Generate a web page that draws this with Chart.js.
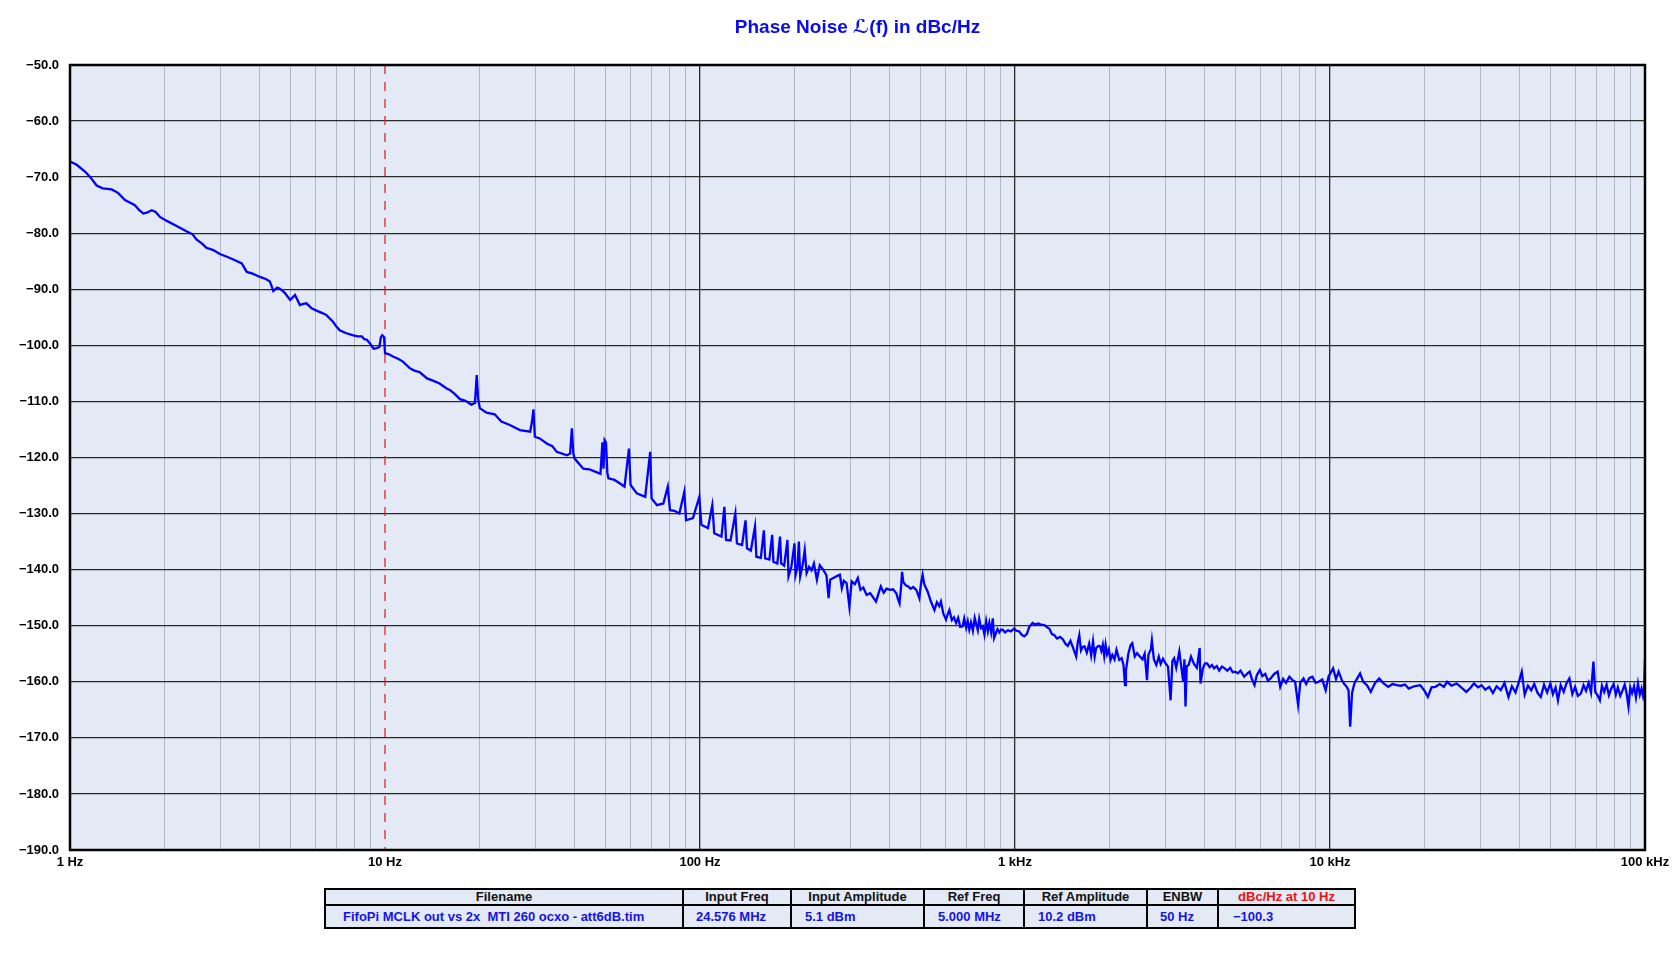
<!DOCTYPE html>
<html>
<head>
<meta charset="utf-8">
<script src="https://cdn.jsdelivr.net/npm/chart.js@4.4.0/dist/chart.umd.min.js"></script>
<style>
  html,body{margin:0;padding:0;background:#fff;width:1680px;height:967px;overflow:hidden;}
  #c{position:absolute;left:0;top:0;}
  #info{position:absolute;left:324px;top:888px;border-collapse:collapse;table-layout:fixed;
        font-family:'Liberation Sans',Arial,sans-serif;background:#e3e9f5;}
  #info td{border:2px solid #000;padding:0;white-space:pre;overflow:hidden;}
  #info tr.h td{height:14px;font-size:13px;font-weight:bold;color:#111;text-align:center;line-height:14px;}
  #info tr.d td{height:21px;font-size:13px;font-weight:bold;color:#1414e6;text-align:left;line-height:21px;}
</style>
</head>
<body>
<canvas id="c" width="1680" height="967"></canvas>
<table id="info">
  <colgroup>
    <col style="width:358px"><col style="width:108px"><col style="width:133px"><col style="width:100px">
    <col style="width:123px"><col style="width:71px"><col style="width:137px">
  </colgroup>
  <tr class="h">
    <td>Filename</td><td>Input Freq</td><td>Input Amplitude</td><td>Ref Freq</td>
    <td>Ref Amplitude</td><td>ENBW</td><td style="color:#ee1111">dBc/Hz at 10 Hz</td>
  </tr>
  <tr class="d">
    <td style="padding-left:17px">FifoPi MCLK out vs 2x  MTI 260 ocxo - att6dB.tim</td>
    <td style="padding-left:12px">24.576 MHz</td>
    <td style="padding-left:13px">5.1 dBm</td>
    <td style="padding-left:13px">5.000 MHz</td>
    <td style="padding-left:13px">10.2 dBm</td>
    <td style="padding-left:12px">50 Hz</td>
    <td style="padding-left:14px">−100.3</td>
  </tr>
</table>
<script>
// ---------------- data ----------------
const titleText = 'Phase Noise \u2112(f) in dBc/Hz';
const markerHz = 10;
const xDecades = [1, 10, 100, 1000, 10000, 100000];
const xTickLabels = ['1 Hz', '10 Hz', '100 Hz', '1 kHz', '10 kHz', '100 kHz'];
const yTicks = [-50, -60, -70, -80, -90, -100, -110, -120, -130, -140, -150, -160, -170, -180, -190];
const yTickLabels = ['\u221250.0','\u221260.0','\u221270.0','\u221280.0','\u221290.0','\u2212100.0','\u2212110.0','\u2212120.0','\u2212130.0','\u2212140.0','\u2212150.0','\u2212160.0','\u2212170.0','\u2212180.0','\u2212190.0'];

const freqHz = [
1,1.05,1.116,1.16,1.215,1.27,1.356,1.42,1.495,1.607,1.66,1.71,1.76,1.817,1.87,1.93,2.03,2.18,2.35,2.45,
2.52,2.62,2.71,2.85,2.99,3.15,3.3,3.51,3.64,3.8,4.01,4.2,4.31,4.42,4.55,4.64,4.8,5,5.18,5.37,
5.5,5.63,5.85,6.06,6.3,6.52,6.84,7,7.18,7.5,7.93,8.2,8.44,8.6,8.76,9,9.2,9.4,9.6,9.7,
9.8,9.93,10,10.3,10.6,11,11.4,12,12.4,12.9,13.6,14.2,14.9,15.7,16.1,16.6,17.3,18,18.8,19.3,
19.55,19.75,20,21,22.3,23.4,24.9,26.8,28.9,29.3,29.6,29.9,31,32.6,34,35.1,37.8,38.7,39.2,39.6,
40,42.6,44.5,46.9,48.3,49,49.4,49.8,50.3,50.8,51.2,53.5,55.6,57.6,59.5,60.2,63,67,69.5,70.2,
73,76.5,79,80.3,83,86,89.2,90.3,95,99.5,101,106,109.4,111,117,119.5,121,125,129.5,131,
136,139.5,141,145,149.5,151,156,159.5,161,166,169.5,171,176,179.5,181,185,189.5,191,195,199.5,
201,204,206,208,212,215,218,222,226,230,235,240,246,252,256,259,265,271,278,282,
286,292,298,303,310,317,323,330,338,347,355,362,368,375,383,391,401,410,420,425,
430,435,438,442,450,458,466,475,486,492,497,503,509,515,522,528,540,555,565,575,
582,592,604,612,619,630,640,650,660,670,682,690,700,708,716,725,735,745,752,762,
770,780,790,800,810,820,829,840,850,858,870,880,892,903,914,930,950,970,994,1010,
1030,1050,1069,1090,1110,1137,1160,1185,1209,1240,1265,1285,1310,1334,1360,1390,1418,1445,1471,1500,
1530,1564,1582,1600,1620,1640,1663,1690,1720,1745,1769,1790,1810,1840,1863,1880,1900,1920,1939,1960,
1985,2010,2037,2070,2100,2143,2180,2210,2235,2250,2290,2330,2357,2400,2440,2492,2540,2580,2625,2652,
2700,2720,2760,2810,2860,2900,2950,3005,3060,3119,3160,3200,3250,3324,3380,3420,3450,3478,3510,3560,
3620,3700,3780,3857,3880,3950,4010,4073,4150,4220,4285,4370,4450,4540,4630,4720,4820,4910,5005,5100,
5200,5340,5450,5560,5650,5760,5860,5990,6100,6230,6350,6480,6650,6820,6950,7100,7250,7430,7600,7750,
7920,8050,8240,8400,8600,8790,9000,9200,9450,9690,9900,10050,10230,10450,10650,10900,11100,11300,11450,11590,
11750,11950,12200,12460,12750,13100,13470,13900,14330,14800,15300,15800,16280,16800,17300,17770,18500,19330,19900,20450,
21000,21620,22300,23000,23530,24300,25230,26100,27070,27800,28640,29500,30300,31100,32030,32900,33800,34840,35800,36860,
37800,38800,39700,40620,41500,42500,43550,44500,45600,46680,47800,48900,50060,51000,52000,52930,54000,55200,56300,57530,
58800,60000,61200,62570,63800,65000,66200,67400,68590,69500,70700,71910,73000,74200,75500,76800,78150,79500,80800,82000,
83500,84920,86200,87400,88620,89800,91000,92300,93600,94980,96300,97500,98600,99300,100000
];

const noiseDbcHz = [
-67.2,-67.8,-69.0,-70.0,-71.5,-72.0,-72.2,-72.8,-74.1,-75.0,-75.9,-76.5,-76.3,-75.9,-76.2,-77.1,-77.8,-78.7,-79.7,-80.2,
-81.1,-81.8,-82.6,-83.0,-83.7,-84.2,-84.7,-85.4,-86.9,-87.2,-87.8,-88.2,-88.6,-90.3,-89.7,-89.9,-90.6,-91.9,-91.0,-92.8,
-92.6,-92.5,-93.4,-93.8,-94.2,-94.6,-95.8,-96.6,-97.3,-97.8,-98.2,-98.4,-98.4,-98.9,-99.0,-99.8,-100.6,-100.5,-100.3,-98.6,
-98.2,-98.5,-101.4,-101.6,-102.0,-102.4,-102.9,-104.1,-104.5,-104.8,-105.9,-106.3,-106.8,-107.7,-108.0,-108.6,-109.6,-109.9,-110.6,-110.3,
-105.3,-109.5,-111.2,-112.0,-112.3,-113.6,-114.2,-115.1,-115.4,-113.5,-111.4,-116.3,-116.6,-117.5,-118.0,-119.0,-119.6,-119.3,-114.8,-119.2,
-120.2,-122.0,-122.1,-122.6,-122.9,-117.3,-122.0,-116.9,-117.3,-122.7,-123.7,-124.0,-124.6,-125.2,-118.4,-124.9,-126.4,-127.0,-119.0,-127.3,
-128.5,-128.2,-125.2,-129.4,-129.5,-130.0,-126.1,-131.2,-130.8,-127.0,-132.0,-132.6,-128.5,-133.5,-134.1,-128.8,-134.7,-134.8,-130.0,-135.3,
-135.6,-131.2,-136.2,-136.6,-132.3,-137.7,-137.9,-133.0,-138.0,-138.2,-133.8,-138.6,-138.9,-134.1,-138.9,-139.3,-134.7,-141.2,-139.5,-135.3,
-141.0,-139.5,-135.0,-141.2,-139.0,-136.5,-140.6,-139.5,-140.1,-138.9,-141.8,-139.2,-140.0,-141.0,-145.1,-141.8,-141.5,-141.2,-140.9,-143.3,
-142.0,-142.4,-146.6,-142.1,-142.6,-141.5,-143.6,-143.2,-144.5,-144.2,-145.0,-145.7,-144.4,-143.0,-144.1,-143.4,-143.6,-143.5,-144.2,-145.2,
-146.0,-143.0,-140.4,-142.2,-142.8,-143.0,-143.4,-143.1,-143.6,-144.4,-145.1,-142.5,-140.9,-142.6,-143.3,-143.9,-145.6,-147.2,-145.8,-146.5,
-145.7,-147.8,-148.9,-147.9,-147.2,-149.0,-148.5,-149.5,-148.6,-150.2,-150.1,-148.7,-150.4,-149.2,-150.7,-149.4,-150.9,-148.6,-149.5,-150.8,
-148.8,-150.4,-150.1,-151.6,-149.2,-151.0,-149.5,-151.2,-148.7,-152.2,-151.3,-150.6,-151.2,-150.7,-150.7,-151.2,-150.8,-151.0,-150.5,-150.9,
-151.0,-151.6,-151.9,-151.5,-150.2,-149.5,-149.8,-149.6,-149.8,-149.9,-150.3,-150.5,-151.5,-151.7,-152.3,-152.0,-152.4,-153.2,-153.6,-152.7,
-154.0,-155.5,-153.0,-151.7,-154.4,-153.8,-153.7,-154.8,-153.2,-155.3,-152.8,-155.5,-154.0,-153.6,-153.7,-154.5,-153.4,-155.4,-153.4,-155.1,
-154.2,-156.1,-155.2,-156.0,-154.3,-156.1,-155.8,-157.0,-160.6,-158.0,-155.0,-153.4,-153.1,-155.5,-154.9,-155.5,-156.0,-155.0,-159.7,-155.2,
-154.2,-152.6,-156.0,-157.0,-155.5,-156.8,-155.9,-156.7,-157.3,-163.3,-156.3,-155.8,-157.5,-154.6,-157.8,-160.0,-156.0,-164.4,-157.2,-157.0,
-155.5,-156.8,-157.5,-154.0,-160.3,-157.6,-156.7,-156.7,-157.4,-157.0,-157.6,-157.2,-158.0,-157.3,-157.6,-158.0,-157.5,-158.3,-158.2,-158.5,
-158.0,-159.1,-158.6,-158.2,-159.5,-160.6,-158.8,-157.9,-159.0,-158.6,-159.8,-159.4,-158.6,-158.2,-160.9,-159.5,-160.2,-159.1,-159.7,-160.0,
-164.1,-160.1,-159.4,-160.4,-159.3,-159.1,-160.2,-160.0,-159.6,-161.5,-159.0,-158.4,-157.6,-159.5,-158.2,-159.7,-160.4,-160.9,-161.5,-168.0,
-162.0,-160.3,-159.4,-158.5,-160.0,-160.6,-161.8,-160.2,-159.4,-160.3,-160.9,-160.4,-160.6,-160.7,-160.5,-161.2,-160.8,-160.6,-161.5,-162.7,
-161.0,-160.9,-160.4,-160.9,-160.0,-160.7,-160.3,-161.0,-161.8,-161.2,-160.3,-161.0,-160.6,-161.4,-160.9,-162.0,-160.8,-161.5,-160.2,-162.7,
-160.8,-161.9,-160.2,-158.2,-162.3,-160.7,-161.5,-160.4,-162.0,-162.7,-160.5,-161.9,-160.3,-162.2,-161.0,-163.3,-160.6,-161.8,-160.3,-159.4,
-162.2,-160.9,-162.5,-162.1,-160.6,-161.6,-160.2,-161.9,-156.4,-161.8,-162.4,-163.3,-160.7,-161.8,-160.5,-162.4,-161.2,-160.4,-162.3,-161.0,
-162.5,-161.5,-160.5,-162.0,-164.4,-161.0,-162.0,-160.8,-162.8,-160.3,-162.3,-161.2,-162.6,-161.8,-155.8
];

// ---------------- chart ----------------
const FONT = "'Liberation Sans', 'DejaVu Sans', Arial, sans-serif";
const yMin = yTicks[yTicks.length - 1], yMax = yTicks[0];

const areaPlugin = {
  id: 'area',
  beforeDraw(chart) {
    const a = chart.chartArea, c = chart.ctx;
    c.save(); c.fillStyle = '#e3e9f5';
    c.fillRect(a.left, a.top, a.right - a.left, a.bottom - a.top);
    c.restore();
  },
  afterDraw(chart) {
    const a = chart.chartArea, c = chart.ctx;
    c.save(); c.strokeStyle = '#000'; c.lineWidth = 2.5;
    c.strokeRect(a.left, a.top, a.right - a.left, a.bottom - a.top);
    c.restore();
  }
};

const near = (v, d) => Math.abs(v - d) < d * 1e-6;
const isDecade = v => xDecades.some(d => near(v, d));

new Chart(document.getElementById('c'), {
  type: 'line',
  data: {
    datasets: [
      {
        data: freqHz.map((f, i) => ({ x: f, y: noiseDbcHz[i] })),
        borderColor: '#0000ff', borderWidth: 2.3, pointRadius: 0, tension: 0, order: 1
      },
      {
        data: [{ x: markerHz, y: yMax }, { x: markerHz, y: yMin }],
        borderColor: '#d81818', borderWidth: 1.2, borderDash: [9, 8], pointRadius: 0, order: 2
      }
    ]
  },
  options: {
    responsive: false, animation: false, devicePixelRatio: 1,
    layout: { padding: { left: 0, right: 35, top: 0, bottom: 87 } },
    plugins: {
      legend: { display: false }, tooltip: { enabled: false },
      title: {
        display: true, fullSize: false, text: titleText, color: '#0a0aee',
        font: { family: FONT, size: 19, weight: 'bold' },
        padding: { top: 16.6, bottom: 25.6 }
      }
    },
    scales: {
      x: {
        type: 'logarithmic', min: xDecades[0], max: xDecades[xDecades.length - 1],
        afterBuildTicks: s => {
          const t = [];
          for (let k = 0; k < xDecades.length; k++) {
            const d = xDecades[k];
            t.push({ value: d, major: true });
            if (k < xDecades.length - 1) for (let m = 2; m <= 9; m++) t.push({ value: d * m });
          }
          s.ticks = t;
        },
        afterFit: s => { s.height = 30; s.paddingLeft = 0; s.paddingRight = 0; },
        ticks: {
          autoSkip: false, maxRotation: 0, minRotation: 0, padding: 5, color: '#000',
          font: { family: FONT, size: 13, weight: 'bold' },
          callback: v => { const i = xDecades.findIndex(d => near(v, d)); return i >= 0 ? xTickLabels[i] : ''; }
        },
        grid: {
          drawTicks: false,
          lineWidth: ctx => (ctx.tick && isDecade(ctx.tick.value)) ? 1.3 : 1,
          color: ctx => {
            if (!ctx.tick) return '#b0b8c4';
            if (near(ctx.tick.value, markerHz)) return 'rgba(0,0,0,0)';
            return isDecade(ctx.tick.value) ? '#2b2b2b' : '#b0b8c4';
          }
        },
        border: { display: false }
      },
      y: {
        min: yMin, max: yMax,
        afterBuildTicks: s => { s.ticks = yTicks.map(v => ({ value: v })); },
        afterFit: s => { s.width = 70; s.paddingTop = 0; s.paddingBottom = 0; },
        ticks: {
          autoSkip: false, padding: 11, color: '#000',
          font: { family: FONT, size: 13, weight: 'bold' },
          callback: v => { const i = yTicks.indexOf(v); return i >= 0 ? yTickLabels[i] : ''; }
        },
        grid: { drawTicks: false, lineWidth: 1.3, color: '#2b2b2b' },
        border: { display: false }
      }
    }
  },
  plugins: [areaPlugin]
});
</script>
</body>
</html>
